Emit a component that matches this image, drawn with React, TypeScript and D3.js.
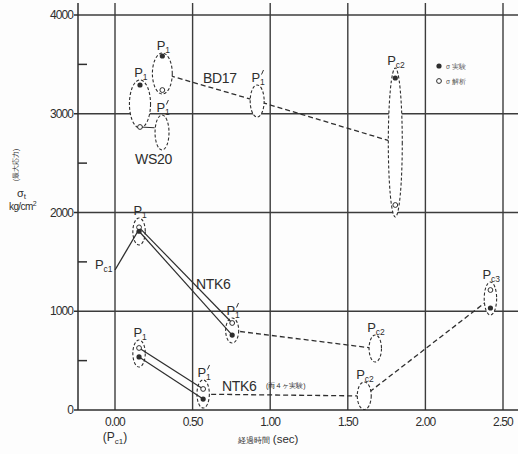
import React from "react";
import * as d3 from "d3";

const W = 518;
const H = 454;

const xTicks = [0, 0.5, 1.0, 1.5, 2.0, 2.5];
const xTickLabels = ["0.00", "0.50", "1.00", "1.50", "2.00", "2.50"];
const yTicks = [0, 1000, 2000, 3000, 4000];
const yTickLabels = ["0", "1000", "2000", "3000", "4000"];
const yMinorTicks = [500, 1500, 2500, 3500];

// Dashed measurement rings: time (s), ring top / bottom stress, half width (s),
// measured (filled) and analysed (open) stress (kg/cm²)
type Ring = {
  sub: string;
  prime?: boolean;
  t: number;
  top: number;
  bottom: number;
  hw: number;
  filled?: number;
  open?: number;
};

const bd17Rings: Ring[] = [
  { sub: "1", t: 0.305, top: 3615, bottom: 3200, hw: 0.064, filled: 3585, open: 3240 },
  { sub: "1", prime: true, t: 0.916, top: 3291, bottom: 2967, hw: 0.045 },
  { sub: "c2", t: 1.806, top: 3463, bottom: 1954, hw: 0.045, filled: 3362, open: 2076 },
];

const ws20Rings: Ring[] = [
  { sub: "1", t: 0.161, top: 3342, bottom: 2856, hw: 0.068, filled: 3291, open: 2866 },
  { sub: "1", prime: true, t: 0.303, top: 2987, bottom: 2633, hw: 0.045 },
];

const ntk6Rings: Ring[] = [
  { sub: "1", t: 0.155, top: 1944, bottom: 1671, hw: 0.04, filled: 1810, open: 1850 },
  { sub: "1", prime: true, t: 0.755, top: 932, bottom: 678, hw: 0.042, filled: 759, open: 881 },
  { sub: "c2", t: 1.677, top: 760, bottom: 486, hw: 0.04 },
];

const ntk6bRings: Ring[] = [
  { sub: "1", t: 0.155, top: 709, bottom: 435, hw: 0.04, filled: 537, open: 628 },
  { sub: "1", prime: true, t: 0.568, top: 304, bottom: 20, hw: 0.04, filled: 111, open: 213 },
  { sub: "c2", t: 1.606, top: 284, bottom: 5, hw: 0.045 },
  { sub: "c3", t: 2.419, top: 1296, bottom: 962, hw: 0.04, filled: 1033, open: 1215 },
];

// First-crack point and the rise to the peak
const pc1 = { t: 0, s: 1418 };
const ntk6Rise: [number, number][] = [[0, 1418], [0.155, 1830]];

// Dashed trends through the ring centres
const bd17Trend: [number, number][] = [[0.305, 3408], [0.916, 3129], [1.806, 2708]];
const ntk6Trend: [number, number][] = [[0.755, 805], [1.677, 623]];
const ntk6bTrend: [number, number][] = [[0.568, 160], [1.606, 142], [2.419, 1129]];
const ws20Link: [number, number][] = [[0.161, 2866], [0.255, 2858]];

const x = d3.scaleLinear().domain([0, 2.5]).range([115, 503]);
const y = d3.scaleLinear().domain([0, 4000]).range([410, 15]);
const xLeft = 78;
const xRight = W;

const INK = "#2e2e2e";
const GRID = "#3c3c3c";
const FONT = "'Liberation Sans', Arial, sans-serif";

const line = d3
  .line<[number, number]>()
  .x((d) => x(d[0]))
  .y((d) => y(d[1]));

function RingMark({ r }: { r: Ring }) {
  const cx = x(r.t);
  const cy = (y(r.top) + y(r.bottom)) / 2;
  const rx = x(r.t + r.hw) - x(r.t);
  const ry = (y(r.bottom) - y(r.top)) / 2;
  return (
    <ellipse
      cx={cx}
      cy={cy}
      rx={rx}
      ry={ry}
      fill="#fff"
      stroke={INK}
      strokeWidth={1.1}
      strokeDasharray="3,2"
    />
  );
}

function RingDots({ r }: { r: Ring }) {
  const cx = x(r.t);
  return (
    <g>
      {r.open !== undefined && (
        <circle cx={cx} cy={y(r.open)} r={2.4} fill="#fff" stroke={INK} strokeWidth={1} />
      )}
      {r.filled !== undefined && <circle cx={cx} cy={y(r.filled)} r={2.6} fill={INK} />}
    </g>
  );
}

// "P" with a subscript; a prime is drawn as a short stroke above the subscript
function PLabel({ px, py, sub, prime, anchor = "middle" }: { px: number; py: number; sub: string; prime?: boolean; anchor?: string }) {
  const pW = 8.5;
  const sW = sub.length * 4.8;
  const total = pW + sW;
  const x0 = anchor === "end" ? px - total : anchor === "start" ? px : px - total / 2;
  const sx = x0 + pW;
  return (
    <g fill={INK}>
      <text x={x0} y={py} fontFamily={FONT} fontSize={13}>
        P
      </text>
      <text x={sx} y={py + 3} fontFamily={FONT} fontSize={8.5}>
        {sub}
      </text>
      {prime && (
        <line x1={sx + 1.5} y1={py - 7.5} x2={sx + 3.5} y2={py - 12} stroke={INK} strokeWidth={1} />
      )}
    </g>
  );
}

function RingLabel({ r }: { r: Ring }) {
  return <PLabel px={x(r.t) + 1} py={y(r.top) - 3} sub={r.sub} prime={r.prime} />;
}

function pairLines(a: Ring, b: Ring) {
  return (
    <g stroke={INK} strokeWidth={1.2}>
      <line x1={x(a.t)} y1={y(a.open!)} x2={x(b.t)} y2={y(b.open!)} />
      <line x1={x(a.t)} y1={y(a.filled!)} x2={x(b.t)} y2={y(b.filled!)} />
    </g>
  );
}

export default function App() {
  const allRings = [...bd17Rings, ...ws20Rings, ...ntk6Rings, ...ntk6bRings];
  return (
    <svg
      width={W}
      height={H}
      viewBox={`0 0 ${W} ${H}`}
      style={{ position: "absolute", left: 0, top: 0, background: "#fff" }}
    >
      <rect width={W} height={H} fill="#fdfdfd" />

      {/* grid */}
      <g stroke={GRID} strokeWidth={1.4}>
        {xTicks.map((t) => (
          <line key={"vx" + t} x1={x(t)} x2={x(t)} y1={3} y2={y(0)} />
        ))}
        {yTicks.filter((v) => v > 0).map((v) => (
          <line key={"hy" + v} x1={xLeft} x2={xRight} y1={y(v)} y2={y(v)} />
        ))}
      </g>

      {/* axes */}
      <g stroke={INK} strokeWidth={1.5}>
        <line x1={xLeft} x2={xLeft} y1={3} y2={y(0)} />
        <line x1={xLeft} x2={xRight} y1={y(0)} y2={y(0)} />
        {yTicks.map((v) => (
          <line key={"ty" + v} x1={xLeft - 4} x2={xLeft} y1={y(v)} y2={y(v)} />
        ))}
        {yMinorTicks.map((v) => (
          <line key={"my" + v} x1={xLeft} x2={xLeft + 9} y1={y(v)} y2={y(v)} />
        ))}
      </g>

      {/* tick labels */}
      <g fontFamily={FONT} fontSize={12} fill={INK} letterSpacing={-0.9}>
        {yTicks.map((v, i) => (
          <text key={"ly" + v} x={xLeft - 5} y={y(v) + 4} textAnchor="end">
            {yTickLabels[i]}
          </text>
        ))}
        {xTicks.map((t, i) => (
          <text key={"lx" + t} x={x(t)} y={y(0) + 16} textAnchor="middle">
            {xTickLabels[i]}
          </text>
        ))}
      </g>
      <text x={x(0)} y={y(0) + 31} fontFamily={FONT} fontSize={12} fill={INK} textAnchor="middle">
        (P<tspan fontSize={8} dy={3}>c1</tspan>
        <tspan dy={-3}>)</tspan>
      </text>

      {/* axis titles */}
      <text x={268} y={443} fontFamily={FONT} fill={INK} textAnchor="middle">
        <tspan fontSize={7.5}>経過時間</tspan>
        <tspan fontSize={11.5}> (sec)</tspan>
      </text>
      <text transform="translate(18,165) rotate(-90)" fontFamily={FONT} fontSize={7} fill={INK} textAnchor="middle">
        (最大応力)
      </text>
      <text x={17} y={197} fontFamily={FONT} fontSize={11} fill={INK}>
        σ<tspan fontSize={8} dy={2}>t</tspan>
      </text>
      <text x={9} y={210} fontFamily={FONT} fontSize={10} fill={INK} letterSpacing={-0.6}>
        kg/cm<tspan fontSize={7} dy={-4}>2</tspan>
      </text>

      {/* dashed trends (rings drawn on top hide the inner part) */}
      <g fill="none" stroke={INK} strokeWidth={1.3} strokeDasharray="5,3">
        <path d={line(bd17Trend) ?? ""} />
        <path d={line(ntk6Trend) ?? ""} />
        <path d={line(ntk6bTrend) ?? ""} />
      </g>

      {/* rings */}
      {allRings.map((r, i) => (
        <RingMark key={"r" + i} r={r} />
      ))}

      {/* solid connections */}
      <path d={line(ntk6Rise) ?? ""} fill="none" stroke={INK} strokeWidth={1.3} />
      <path d={line(ws20Link) ?? ""} fill="none" stroke={INK} strokeWidth={1.1} />
      {pairLines(ntk6Rings[0], ntk6Rings[1])}
      {pairLines(ntk6bRings[0], ntk6bRings[1])}

      {/* dots */}
      {allRings.map((r, i) => (
        <RingDots key={"d" + i} r={r} />
      ))}

      {/* point labels */}
      {allRings.map((r, i) => (
        <RingLabel key={"l" + i} r={r} />
      ))}
      <PLabel px={x(pc1.t) - 2} py={y(pc1.s) - 1} sub="c1" anchor="end" />

      {/* series names */}
      <g fontFamily={FONT} fontSize={14} fill={INK} letterSpacing={-0.3}>
        <text x={203} y={83}>BD17</text>
        <text x={135} y={164}>WS20</text>
        <text x={196} y={289}>NTK6</text>
        <text x={222} y={391}>NTK6</text>
      </g>
      <text x={266} y={388} fontFamily={FONT} fontSize={7} fill={INK}>
        (両４ヶ実験)
      </text>

      {/* legend */}
      <circle cx={439} cy={66} r={2.6} fill={INK} />
      <circle cx={439} cy={81} r={2.4} fill="#fff" stroke={INK} strokeWidth={1} />
      <g fontFamily={FONT} fontSize={6.5} fill="#555">
        <text x={446} y={68.5}>σ 実験</text>
        <text x={446} y={83.5}>σ 解析</text>
      </g>
    </svg>
  );
}
